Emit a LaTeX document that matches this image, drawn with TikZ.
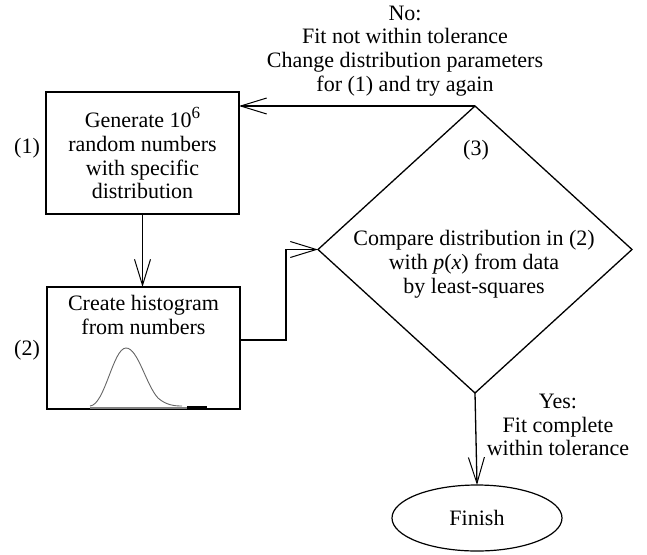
\documentclass[tikz,border=0pt]{standalone}
\usepackage{fontspec}
\setmainfont{Liberation Serif}
\usetikzlibrary{shapes.geometric,arrows.meta}
\begin{document}
\begin{tikzpicture}[x=1pt,y=-1pt,
  txt/.style={font=\fontsize{22}{23.8}\selectfont, align=center, inner sep=0pt},
  boxnode/.style={draw, line width=1.6pt, minimum width=193pt, minimum height=122pt, inner sep=0pt, outer sep=0pt},
  decision/.style={draw, diamond, line width=1.3pt, minimum width=314pt, minimum height=287pt, inner sep=0pt, outer sep=0pt},
  endnode/.style={draw, ellipse, line width=1.2pt, minimum width=170pt, minimum height=66pt, inner sep=0pt, outer sep=0pt, font=\fontsize{22}{24}\selectfont},
  arr/.style={line width=1.3pt, -{Straight Barb[length=26pt, width=16pt, line width=1pt]}}
]
\useasboundingbox (0,0) rectangle (647,554);

% nodes
\node[boxnode, txt] (box1) at (142.5,153) {Generate 10\raisebox{0.42em}{\fontsize{17}{17}\selectfont 6}\\random numbers\\with specific\\distribution};
\node[boxnode] (box2) at (143.5,348) {};
\node[txt] (box2t) at (143.5,315) {Create histogram\\from numbers};
\node[decision] (dia) at (475,249.5) {};
\node[txt] (diat) at (474,264) {Compare distribution in (2)\\with \textit{p}(\textit{x}) from data\\by least-squares};
\node[endnode] (fin) at (477,518) {Finish};

% labels
\node[txt] (l1) at (27,148) {(1)};
\node[txt] (l2) at (27,350) {(2)};
\node[txt] (l3) at (476,150) {(3)};
\node[txt] (nolab) at (405,51) {No:\\Fit not within tolerance\\Change distribution parameters\\for (1) and try again};
\node[txt] (yeslab) at (558,425) {Yes:\\Fit complete\\within tolerance};

% histogram sketch
\draw[black!60, line width=0.9pt] (90,406) .. controls (105,405) and (113,348) .. (126,348)
  .. controls (138,348) and (146,385) .. (158,398) .. controls (166,405) and (174,406) .. (182,406);
\draw[gray, line width=2pt] (90,407.5) -- (187,407.5);
\draw[black, line width=2.5pt] (187,407.5) -- (207,407.5);

% connectors
\draw[arr] (dia.north) -- (dia.north -| box1.east);
\draw[arr] (box1.south) -- (box1.south |- box2.north);
\draw[arr] ([yshift=8pt]box2.east) -- ++(46,0) |- (dia.west);
\draw[arr] (dia.south) -- (fin.north);
\end{tikzpicture}
\end{document}
